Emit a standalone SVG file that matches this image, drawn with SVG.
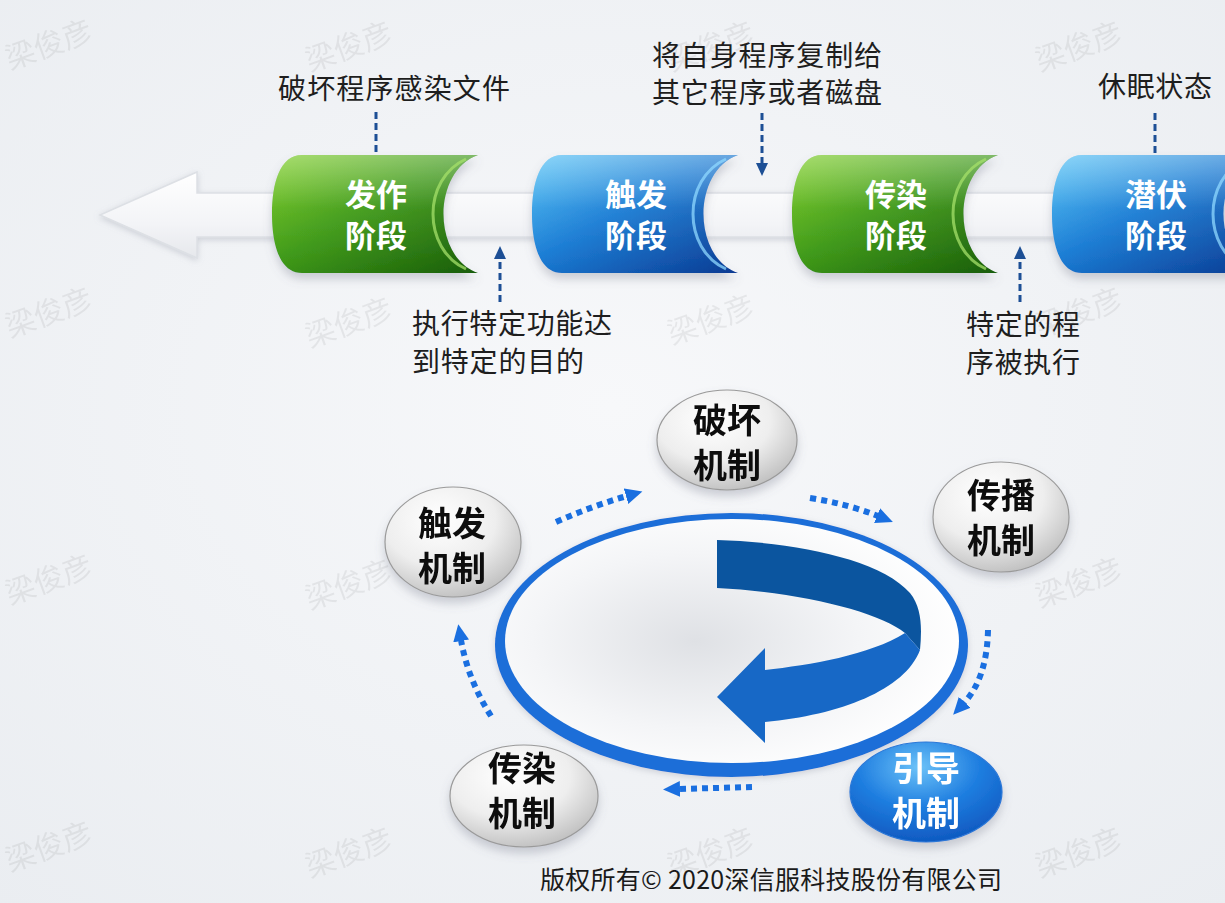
<svg xmlns="http://www.w3.org/2000/svg" width="1225" height="903" viewBox="0 0 1225 903">
<defs>
<style>
.ann{font-family:"Noto Sans CJK SC","Noto Sans",sans-serif;font-size:28px;fill:#1e1e1e}
.stg{font-family:"Noto Sans CJK SC","Noto Sans",sans-serif;font-size:31px;font-weight:700;fill:#ffffff;text-anchor:middle}
.nd{font-family:"Noto Sans CJK SC","Noto Sans",sans-serif;font-size:34px;font-weight:700;fill:#111;text-anchor:middle}
.ndw{font-family:"Noto Sans CJK SC","Noto Sans",sans-serif;font-size:34px;font-weight:700;fill:#ffffff;text-anchor:middle}
.wm{font-family:"Noto Sans CJK SC","Noto Sans",sans-serif;font-size:30px;fill:#000;opacity:0.06}
.dash{fill:none;stroke:#1d4f95;stroke-width:3;stroke-dasharray:7 4}
.dot{fill:none;stroke:#1a6fe0;stroke-width:6;stroke-dasharray:6 5}
.copy{font-family:"Noto Sans CJK SC","Noto Sans",sans-serif;font-size:25px;fill:#1a1a1a}
</style>
<radialGradient id="bg" cx="0.5" cy="0.45" r="0.75">
<stop offset="0" stop-color="#f7f8fa"/><stop offset="1" stop-color="#eaedf1"/>
</radialGradient>
<linearGradient id="band" x1="0" y1="0" x2="0" y2="1">
<stop offset="0" stop-color="#ffffff"/><stop offset="0.6" stop-color="#f3f4f7"/><stop offset="1" stop-color="#e6e8ec"/>
</linearGradient>
<linearGradient id="green" x1="0" y1="0" x2="1" y2="1">
<stop offset="0" stop-color="#78cc1e"/><stop offset="0.45" stop-color="#3f9a18"/><stop offset="1" stop-color="#185c08"/>
</linearGradient>
<linearGradient id="blue" x1="0" y1="0" x2="1" y2="1">
<stop offset="0" stop-color="#4cc0f6"/><stop offset="0.45" stop-color="#1a7cd4"/><stop offset="1" stop-color="#0a3a92"/>
</linearGradient>
<linearGradient id="gloss" x1="0" y1="0" x2="0" y2="1">
<stop offset="0" stop-color="#ffffff" stop-opacity="0.35"/><stop offset="0.45" stop-color="#ffffff" stop-opacity="0.05"/><stop offset="1" stop-color="#ffffff" stop-opacity="0"/>
</linearGradient>
<radialGradient id="gray" cx="0.4" cy="0.3" r="0.75">
<stop offset="0" stop-color="#ffffff"/><stop offset="0.55" stop-color="#eeeeee"/><stop offset="1" stop-color="#bdbdbd"/>
</radialGradient>
<radialGradient id="bnode" cx="0.45" cy="0.25" r="0.8">
<stop offset="0" stop-color="#6cc2f8"/><stop offset="0.5" stop-color="#1f7ee0"/><stop offset="1" stop-color="#0d55bd"/>
</radialGradient>
<radialGradient id="inner" cx="0.42" cy="0.5" r="0.6">
<stop offset="0" stop-color="#dfe1e5"/><stop offset="0.6" stop-color="#f4f5f7"/><stop offset="1" stop-color="#ffffff"/>
</radialGradient>
<filter id="sh" x="-20%" y="-20%" width="140%" height="160%">
<feDropShadow dx="0" dy="6" stdDeviation="5" flood-color="#6a7080" flood-opacity="0.3"/>
</filter>
<filter id="sh2" x="-20%" y="-20%" width="140%" height="160%">
<feDropShadow dx="0" dy="2" stdDeviation="3" flood-color="#8a90a0" flood-opacity="0.35"/>
</filter>
<marker id="ah" markerWidth="14" markerHeight="12" refX="1" refY="6" orient="auto" markerUnits="userSpaceOnUse">
<path d="M0,0 L13,6 L0,12 Z" fill="#1d4f95"/>
</marker>
<marker id="ab" markerWidth="18" markerHeight="16" refX="1" refY="8" orient="auto" markerUnits="userSpaceOnUse">
<path d="M0,0 L17,8 L0,16 Z" fill="#1a6fe0"/>
</marker>
<path id="scroll" d="M30,0 L206,0 C160,16 160,102 206,118 L30,118 C8,118 0,90 0,59 C0,28 8,0 30,0 Z"/>
<path id="rim" d="M194,4 C150,24 150,94 194,114"/>
</defs>

<rect width="1225" height="903" fill="url(#bg)"/>

<g id="watermarks">
<text class="wm" transform="translate(10,70) rotate(-20)">梁俊彦</text>
<text class="wm" transform="translate(310,72) rotate(-20)">梁俊彦</text>
<text class="wm" transform="translate(672,72) rotate(-20)">梁俊彦</text>
<text class="wm" transform="translate(1040,72) rotate(-20)">梁俊彦</text>
<text class="wm" transform="translate(10,338) rotate(-20)">梁俊彦</text>
<text class="wm" transform="translate(310,348) rotate(-20)">梁俊彦</text>
<text class="wm" transform="translate(672,345) rotate(-20)">梁俊彦</text>
<text class="wm" transform="translate(1040,338) rotate(-20)">梁俊彦</text>
<text class="wm" transform="translate(10,605) rotate(-20)">梁俊彦</text>
<text class="wm" transform="translate(310,610) rotate(-20)">梁俊彦</text>
<text class="wm" transform="translate(672,615) rotate(-20)">梁俊彦</text>
<text class="wm" transform="translate(1040,608) rotate(-20)">梁俊彦</text>
<text class="wm" transform="translate(10,872) rotate(-20)">梁俊彦</text>
<text class="wm" transform="translate(310,878) rotate(-20)">梁俊彦</text>
<text class="wm" transform="translate(672,878) rotate(-20)">梁俊彦</text>
<text class="wm" transform="translate(1040,878) rotate(-20)">梁俊彦</text>
</g>

<g id="timeline-arrow">
<path d="M100,215 L197,172 L197,193 L1225,193 L1225,237 L197,237 L197,258 Z" fill="url(#band)" stroke="#dde0e5" stroke-width="1.5" filter="url(#sh2)"/>
</g>

<g id="stage-faze">
<g transform="translate(272,155)" filter="url(#sh)">
<use href="#scroll" fill="url(#green)"/>
<use href="#scroll" fill="url(#gloss)"/>
<use href="#rim" fill="none" stroke="#a6e06a" stroke-width="3" opacity="0.75"/>
</g>
<text class="stg"><tspan x="376" y="206">发作</tspan><tspan x="376" y="247">阶段</tspan></text>
</g>
<g id="stage-chufa">
<g transform="translate(532,155)" filter="url(#sh)">
<use href="#scroll" fill="url(#blue)"/>
<use href="#scroll" fill="url(#gloss)"/>
<use href="#rim" fill="none" stroke="#8fd8ff" stroke-width="3" opacity="0.75"/>
</g>
<text class="stg"><tspan x="636" y="206">触发</tspan><tspan x="636" y="247">阶段</tspan></text>
</g>
<g id="stage-chuanran">
<g transform="translate(792,155)" filter="url(#sh)">
<use href="#scroll" fill="url(#green)"/>
<use href="#scroll" fill="url(#gloss)"/>
<use href="#rim" fill="none" stroke="#a6e06a" stroke-width="3" opacity="0.75"/>
</g>
<text class="stg"><tspan x="896" y="206">传染</tspan><tspan x="896" y="247">阶段</tspan></text>
</g>
<g id="stage-qianfu">
<g transform="translate(1052,155)" filter="url(#sh)">
<use href="#scroll" fill="url(#blue)"/>
<use href="#scroll" fill="url(#gloss)"/>
<use href="#rim" fill="none" stroke="#8fd8ff" stroke-width="3" opacity="0.75"/>
</g>
<text class="stg"><tspan x="1156" y="206">潜伏</tspan><tspan x="1156" y="247">阶段</tspan></text>
</g>

<g id="annotations">
<text class="ann" x="278" y="99" textLength="232">破坏程序感染文件</text>
<text class="ann"><tspan x="652" y="66" textLength="230">将自身程序复制给</tspan><tspan x="652" y="103" textLength="230">其它程序或者磁盘</tspan></text>
<text class="ann" x="1098" y="97" textLength="114">休眠状态</text>
<text class="ann"><tspan x="412" y="334" textLength="200">执行特定功能达</tspan><tspan x="412" y="372" textLength="172">到特定的目的</tspan></text>
<text class="ann"><tspan x="966" y="335" textLength="114">特定的程</tspan><tspan x="966" y="373" textLength="114">序被执行</tspan></text>
</g>

<g id="connectors">
<path class="dash" d="M376,112 L376,155"/>
<path class="dash" d="M762,113 L762,164" marker-end="url(#ah)"/>
<path class="dash" d="M1155,113 L1155,155"/>
<path class="dash" d="M500,302 L500,258" marker-end="url(#ah)"/>
<path class="dash" d="M1020,302 L1020,258" marker-end="url(#ah)"/>
<path class="dot" d="M556,522 Q592,506 627,496" marker-end="url(#ab)"/>
<path class="dot" d="M810,498 Q848,504 878,516" marker-end="url(#ab)"/>
<path class="dot" d="M988,630 Q987,678 964,703" marker-end="url(#ab)"/>
<path class="dot" d="M752,787 L679,789" marker-end="url(#ab)"/>
<path class="dot" d="M491,716 Q468,680 461,640" marker-end="url(#ab)"/>
</g>

<g id="cycle">
<ellipse cx="731.5" cy="645" rx="236.5" ry="132" fill="#1b6ed8" filter="url(#sh2)"/>
<ellipse cx="732" cy="641" rx="227" ry="122" fill="url(#inner)"/>
<path d="M717,540 C790,542 880,558 910,593 C922,608 922,628 920,650 L905,633 C880,612 800,592 717,588 Z" fill="#0b559f"/>
<path d="M905,633 C870,655 810,665 765,670 L765,648 L717,697 L765,743 L765,722 C840,715 905,690 920,650 Z" fill="#1768c6"/>
</g>

<g id="node-pohuai" filter="url(#sh)">
<ellipse cx="727" cy="440" rx="70" ry="50" fill="url(#gray)" stroke="#9a9a9a" stroke-width="1.2"/>
<text class="nd"><tspan x="727" y="433">破坏</tspan><tspan x="727" y="478">机制</tspan></text>
</g>
<g id="node-chuanbo" filter="url(#sh)">
<ellipse cx="1001" cy="517" rx="68" ry="55" fill="url(#gray)" stroke="#9a9a9a" stroke-width="1.2"/>
<text class="nd"><tspan x="1001" y="508">传播</tspan><tspan x="1001" y="553">机制</tspan></text>
</g>
<g id="node-chufa" filter="url(#sh)">
<ellipse cx="453" cy="542" rx="68" ry="55" fill="url(#gray)" stroke="#9a9a9a" stroke-width="1.2"/>
<text class="nd"><tspan x="452" y="536">触发</tspan><tspan x="452" y="581">机制</tspan></text>
</g>
<g id="node-chuanran" filter="url(#sh)">
<ellipse cx="524" cy="796" rx="74" ry="51" fill="url(#gray)" stroke="#9a9a9a" stroke-width="1.2"/>
<text class="nd"><tspan x="522" y="781">传染</tspan><tspan x="522" y="826">机制</tspan></text>
</g>
<g id="node-yindao" filter="url(#sh)">
<ellipse cx="926" cy="792" rx="76" ry="50" fill="url(#bnode)" stroke="#2a78d8" stroke-width="1.2"/>
<text class="ndw"><tspan x="926" y="781">引导</tspan><tspan x="926" y="826">机制</tspan></text>
</g>

<text class="copy" x="540" y="889" textLength="462">版权所有© 2020深信服科技股份有限公司</text>
</svg>
